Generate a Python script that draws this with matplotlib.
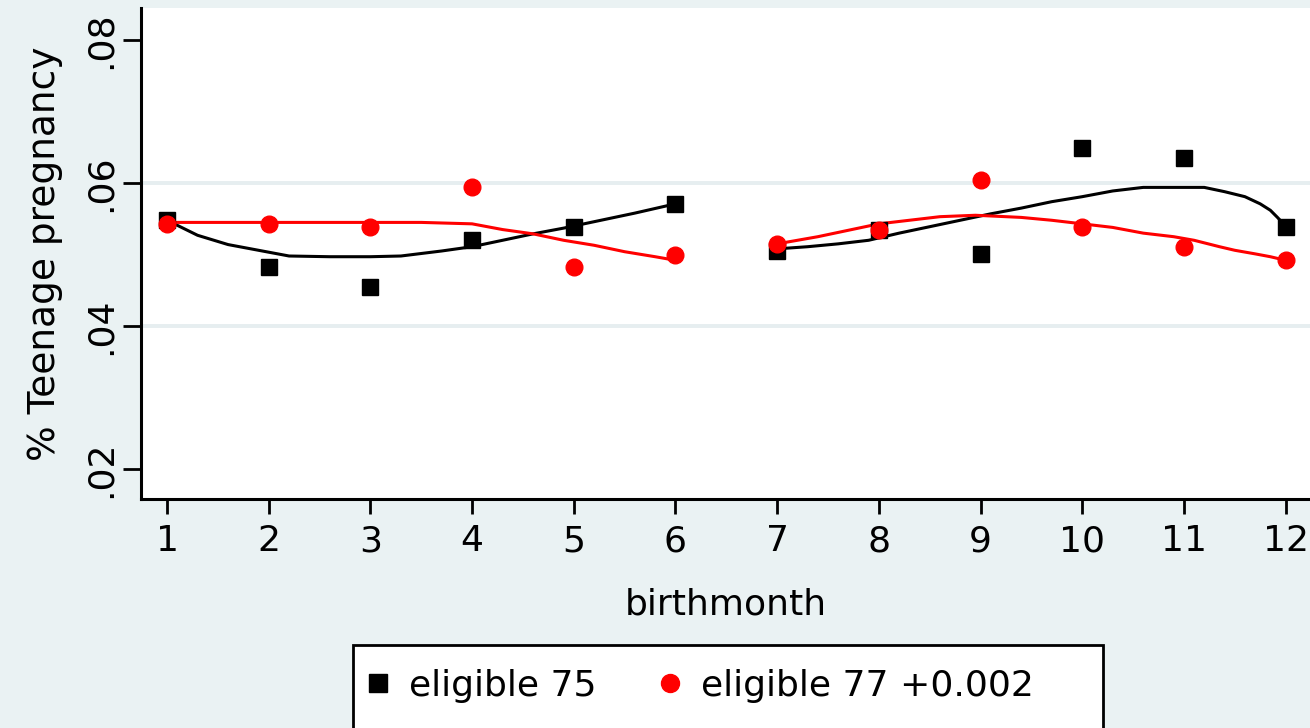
import matplotlib
matplotlib.use("Agg")
import matplotlib.pyplot as plt
from matplotlib.patches import Rectangle

# Stata-style colours
BG = "#EAF2F3"
GRID = "#E6EEF0"

# point estimates by birth month
months = [1, 2, 3, 4, 5, 6, 7, 8, 9, 10, 11, 12]
elig75 = [0.0548, 0.0482, 0.0454, 0.0520, 0.0538, 0.0571,
          0.0505, 0.0534, 0.0501, 0.0649, 0.0635, 0.0538]
elig77 = [0.0543, 0.0543, 0.0539, 0.0594, 0.0483, 0.0499,
          0.0515, 0.0534, 0.0604, 0.0538, 0.0510, 0.0492]

# fitted curves, fitted separately for each half year
fit75_left_x = [1.0, 1.3, 1.6, 1.9, 2.2, 2.6, 3.0, 3.3, 3.7, 4.0, 4.3, 4.6, 4.9, 5.2, 5.6, 6.0]
fit75_left_y = [0.0548, 0.0527, 0.0514, 0.0506, 0.0498, 0.0497, 0.0497, 0.0498,
                0.0505, 0.0511, 0.0520, 0.0529, 0.0537, 0.0546, 0.0558, 0.0571]
fit77_left_x = [1.0, 1.5, 2.0, 2.5, 3.0, 3.5, 4.0, 4.3, 4.6, 4.9, 5.2, 5.5, 5.8, 6.0]
fit77_left_y = [0.0545, 0.0545, 0.0545, 0.0545, 0.0545, 0.0545, 0.0543,
                0.0535, 0.0529, 0.0520, 0.0513, 0.0504, 0.0497, 0.0492]
fit75_right_x = [7.0, 7.3, 7.6, 7.9, 8.2, 8.5, 8.8, 9.1, 9.4, 9.7, 10.0, 10.3,
                 10.6, 10.9, 11.2, 11.4, 11.6, 11.75, 11.85, 11.92, 12.0]
fit75_right_y = [0.0508, 0.0511, 0.0515, 0.0520, 0.0530, 0.0539, 0.0548, 0.0557,
                 0.0565, 0.0574, 0.0581, 0.0589, 0.0594, 0.0594, 0.0594, 0.0588,
                 0.0581, 0.0571, 0.0562, 0.0552, 0.0540]
fit77_right_x = [7.0, 7.2, 7.4, 7.6, 7.8, 8.0, 8.3, 8.6, 8.95, 9.1, 9.4, 9.7, 10.0,
                 10.3, 10.6, 10.9, 11.1, 11.35, 11.5, 11.7, 11.85, 12.0]
fit77_right_y = [0.0515, 0.0520, 0.0525, 0.0531, 0.0537, 0.0543, 0.0548, 0.0553,
                 0.0555, 0.0554, 0.0552, 0.0548, 0.0543, 0.0538, 0.0530, 0.0525,
                 0.0520, 0.0511, 0.0506, 0.0501, 0.0497, 0.0492]

y_ticks = [0.02, 0.04, 0.06, 0.08]
y_ticklabels = [".02", ".04", ".06", ".08"]
grid_lines = [0.04, 0.06]

W, H = 1310, 728
FS = 26

fig = plt.figure(figsize=(W / 100, H / 100), dpi=100, facecolor=BG)
ax = fig.add_axes([141 / W, 1 - 499 / H, 1 - 141 / W, (499 - 8) / H])
ax.set_facecolor("white")

for g in grid_lines:
    ax.axhline(g, color=GRID, lw=2.8, zorder=0)

# fitted lines
ax.plot(fit75_left_x, fit75_left_y, color="black", lw=2.2, zorder=2)
ax.plot(fit75_right_x, fit75_right_y, color="black", lw=2.2, zorder=2)
ax.plot(fit77_left_x, fit77_left_y, color="red", lw=2.2, zorder=2)
ax.plot(fit77_right_x, fit77_right_y, color="red", lw=2.2, zorder=2)

# scatter points
h75, = ax.plot(months, elig75, ls="none", marker="s", ms=11.5, color="black",
               label="eligible 75", zorder=3)
h77, = ax.plot(months, elig77, ls="none", marker="o", ms=12, color="red",
               label="eligible 77 +0.002", zorder=4)

ax.set_xlim(0.744, 12.24)
ax.set_ylim(0.0158, 0.0845)
ax.set_xticks(months)
ax.set_yticks(y_ticks)
ax.set_yticklabels(y_ticklabels)
plt.setp(ax.get_yticklabels(), rotation=90, va="center")

for side in ["top", "right"]:
    ax.spines[side].set_visible(False)
for side in ["left", "bottom"]:
    ax.spines[side].set_linewidth(2.2)
    ax.spines[side].set_color("black")

ax.tick_params(axis="x", length=11, width=2, pad=7, labelsize=FS)
ax.tick_params(axis="y", length=13, width=2, pad=4, labelsize=FS)

ax.set_xlabel("birthmonth", fontsize=FS, labelpad=21)
ax.set_ylabel("% Teenage pregnancy", fontsize=27, labelpad=15)

# legend box runs off the bottom of the image
box = Rectangle((353 / W, 1 - 760 / H), 750 / W, 115 / H, transform=fig.transFigure,
                facecolor="white", edgecolor="black", lw=2, clip_on=False)
fig.add_artist(box)
fig.legend(handles=[h75, h77], loc="center", bbox_to_anchor=(701.5 / W, 1 - 686 / H),
           ncol=2, frameon=False, fontsize=FS, handlelength=0.5, handletextpad=0.6,
           columnspacing=1.8, borderpad=0, markerscale=1.08)

fig.savefig("out.png", dpi=100, facecolor=BG)
